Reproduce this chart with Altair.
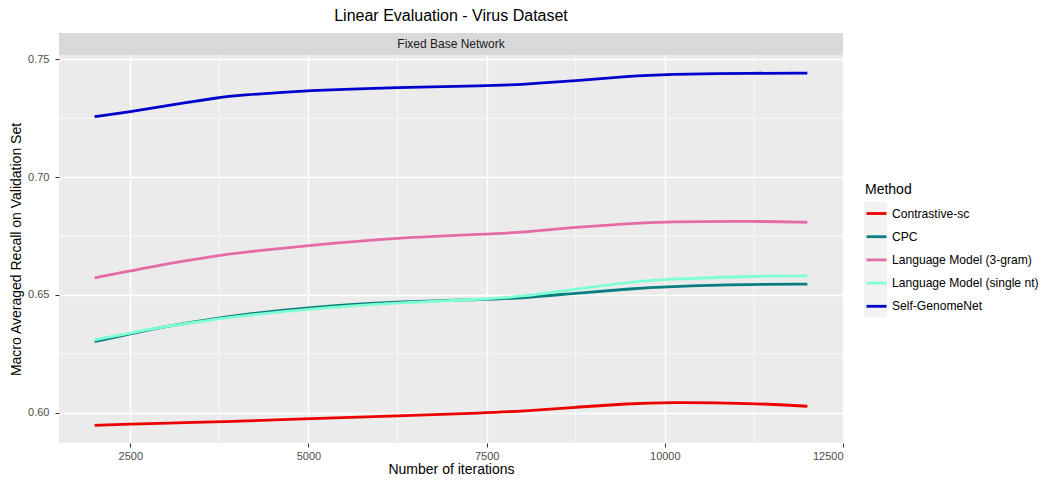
import altair as alt
import pandas as pd

# ---- data ----
iterations = [2000, 2500, 3000, 3750, 4000, 5000, 6250, 7500, 8000, 8750, 9500, 10000, 11250, 12000]

contrastive_sc = [0.5946, 0.5951, 0.5955, 0.5961, 0.5963, 0.5975, 0.5986, 0.5999, 0.6006, 0.6023, 0.6038, 0.6044, 0.6040, 0.6027]
cpc = [0.6301, 0.6334, 0.6367, 0.6402, 0.6413, 0.6447, 0.6471, 0.6480, 0.6486, 0.6507, 0.6525, 0.6535, 0.6545, 0.6545]
lm_3gram = [0.6572, 0.6601, 0.6632, 0.6668, 0.6678, 0.6710, 0.6743, 0.6758, 0.6765, 0.6787, 0.6803, 0.6810, 0.6813, 0.6808]
lm_single = [0.6309, 0.6338, 0.6366, 0.6399, 0.6408, 0.6440, 0.6466, 0.6482, 0.6493, 0.6524, 0.6554, 0.6566, 0.6580, 0.6581]
self_genomenet = [0.7256, 0.7277, 0.7302, 0.7338, 0.7346, 0.7368, 0.7381, 0.7387, 0.7393, 0.7408, 0.7428, 0.7436, 0.7441, 0.7441]

methods = ["Contrastive-sc", "CPC", "Language Model (3-gram)", "Language Model (single nt)", "Self-GenomeNet"]
colors = ["#EE0000", "#0B7F80", "#E56BA6", "#7FFFD4", "#0000CD"]
series = [contrastive_sc, cpc, lm_3gram, lm_single, self_genomenet]

x_ticks = [2500, 5000, 7500, 10000, 12500]
x_minor = [3750, 6250, 8750, 11250]
y_ticks = [0.60, 0.65, 0.70, 0.75]
y_minor = [0.625, 0.675, 0.725]

rows = []
for m, vals in zip(methods, series):
    for it, v in zip(iterations, vals):
        rows.append({"iteration": it, "recall": v, "method": m})
df = pd.DataFrame(rows)

W, H = 784, 388
FONT = "Liberation Sans"

xscale = alt.Scale(domain=[1500, 12500], nice=False, zero=False)
yscale = alt.Scale(domain=[0.5871, 0.7518], nice=False, zero=False)
xaxis = alt.Axis(values=x_ticks, format="d", title="Number of iterations", grid=True,
                 labelPadding=3, titlePadding=1)
yaxis = alt.Axis(values=y_ticks, format=".2f", title="Macro Averaged Recall on Validation Set", grid=True,
                 labelPadding=6, titlePadding=4)

X = alt.X("iteration:Q", scale=xscale, axis=xaxis)
Y = alt.Y("recall:Q", scale=yscale, axis=yaxis)

minor_x = alt.Chart(pd.DataFrame({"iteration": x_minor})).mark_rule(
    color="white", strokeWidth=0.7
).encode(x=X)

minor_y = alt.Chart(pd.DataFrame({"recall": y_minor})).mark_rule(
    color="white", strokeWidth=0.7
).encode(y=Y)

lines = alt.Chart(df).mark_line(strokeWidth=2.8, interpolate="basis").encode(
    x=X,
    y=Y,
    color=alt.Color(
        "method:N",
        scale=alt.Scale(domain=methods, range=colors),
        legend=alt.Legend(
            title="Method",
            orient="none",
            legendX=806,
            legendY=128,
            symbolType="stroke",
            symbolSize=400,
            symbolStrokeWidth=2.8,
            rowPadding=5.2,
            labelOffset=4,
            titlePadding=5,
            labelLimit=400,
        ),
    ),
)

one = alt.Data(values=[{"a": 1}])

key_bg = alt.Chart(one).mark_rect(color="#F2F2F2").encode(
    x=alt.value(805), x2=alt.value(828), y=alt.value(147), y2=alt.value(262)
)

strip = alt.Chart(one).mark_rect(color="#D9D9D9").encode(
    x=alt.value(0), x2=alt.value(W), y=alt.value(-22), y2=alt.value(0)
)

strip_text = alt.Chart(one).mark_text(
    text="Fixed Base Network", font=FONT, fontSize=12, color="#1A1A1A", baseline="middle", align="center"
).encode(x=alt.value(W / 2), y=alt.value(-11))

chart = alt.layer(minor_x, minor_y, key_bg, strip, strip_text, lines).properties(
    width=W,
    height=H,
    title=alt.Title(
        "Linear Evaluation - Virus Dataset",
        font=FONT,
        fontSize=16,
        fontWeight="normal",
        color="black",
        anchor="middle",
        offset=9,
    ),
    autosize=alt.AutoSizeParams(type="none"),
    padding={"left": 51, "top": 47, "right": 197, "bottom": 32},
).configure_view(
    fill="#EBEBEB", strokeWidth=0
).configure_axis(
    gridColor="white",
    gridWidth=1.4,
    domain=False,
    tickColor="#333333",
    tickSize=4,
    tickWidth=1,
    labelFont=FONT,
    labelFontSize=11,
    labelColor="#4D4D4D",
    titleFont=FONT,
    titleFontSize=14,
    titleFontWeight="normal",
    titleColor="black",
).configure_legend(
    titleFont=FONT,
    titleFontSize=14,
    titleFontWeight="normal",
    titleColor="black",
    labelFont=FONT,
    labelFontSize=12.1,
    labelColor="black",
)

chart.save("out.html", embed_options={"renderer": "svg", "actions": False})
